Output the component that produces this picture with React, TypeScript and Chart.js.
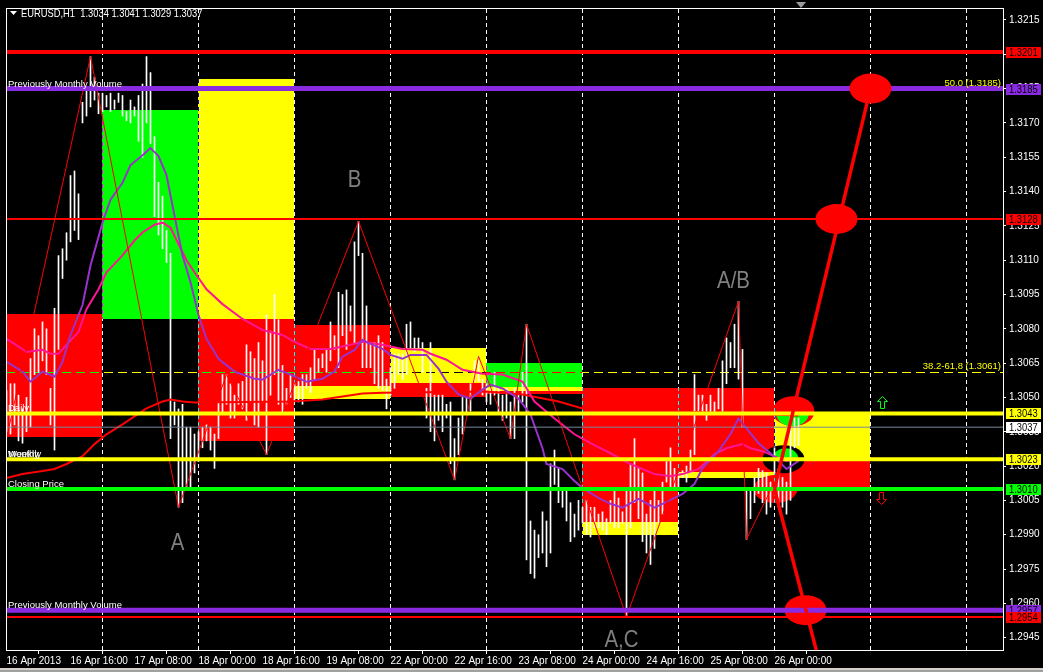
import React, { useEffect, useRef } from "react";
import { Chart, registerables } from "chart.js";

Chart.register(...registerables);

// ---------------- data ----------------
const SYMBOL = "EURUSD,H1";
const CURRENT_OHLC = [1.3034, 1.3041, 1.3029, 1.3037];

const X_TICK_BARS = [0, 16, 32, 48, 64, 80, 96, 112, 128, 144, 160, 176, 192];
const X_TICK_LABELS = [
  "16 Apr 2013", "16 Apr 16:00", "17 Apr 08:00", "18 Apr 00:00", "18 Apr 16:00",
  "19 Apr 08:00", "22 Apr 00:00", "22 Apr 16:00", "23 Apr 08:00", "24 Apr 00:00",
  "24 Apr 16:00", "25 Apr 08:00", "26 Apr 00:00",
];
const Y_TICKS = [
  1.2945, 1.296, 1.2975, 1.299, 1.3005, 1.302, 1.3035, 1.305, 1.3065, 1.308,
  1.3095, 1.311, 1.3125, 1.314, 1.3155, 1.317, 1.3185, 1.32, 1.3215,
];
const BARS_PER_DAY = 24;
const DAY_SEPARATORS = [24, 48, 72, 96, 120, 144, 168, 192, 216, 240];

// hourly bars (index 0 = 16 Apr 00:00)
const BAR_HIGH = [
  1.3053, 1.3056, 1.3056, 1.3051, 1.3045, 1.305, 1.3067, 1.308, 1.3077, 1.3083,
  1.308, 1.3054, 1.3089, 1.3112, 1.3115, 1.3122, 1.3147, 1.3149, 1.3139, 1.3179,
  1.3184, 1.3199, 1.319, 1.3183, 1.3183, 1.3182, 1.3183, 1.318, 1.3183, 1.3182,
  1.3175, 1.318, 1.3177, 1.3182, 1.3187, 1.3199, 1.3192, 1.3164, 1.3144, 1.3138,
  1.3123, 1.3113, 1.3048, 1.3045, 1.3047, 1.3037, 1.3037, 1.3034, 1.3035, 1.3037,
  1.3038, 1.3037, 1.3034, 1.3048, 1.306, 1.306, 1.3056, 1.3051, 1.3056, 1.3057,
  1.3073, 1.307, 1.3067, 1.3074, 1.3066, 1.3086, 1.3079, 1.3095, 1.3084, 1.3064,
  1.3054, 1.306, 1.3056, 1.3057, 1.306, 1.306, 1.3063, 1.3071, 1.3067, 1.3069,
  1.3071, 1.3083, 1.3077, 1.3096, 1.3095, 1.3097, 1.309, 1.3118, 1.3127, 1.3113,
  1.309, 1.3074, 1.3074, 1.3077, 1.3074, 1.3058, 1.3063, 1.3069, 1.3069, 1.3069,
  1.3082, 1.3083, 1.3076, 1.3076, 1.3074, 1.3054, 1.3074, 1.3051, 1.3051, 1.3051,
  1.3047, 1.3048, 1.3032, 1.3041, 1.305, 1.305, 1.3056, 1.3066, 1.3068, 1.3058,
  1.3056, 1.3054, 1.3061, 1.3054, 1.3051, 1.3054, 1.3048, 1.3054, 1.3051, 1.3061,
  1.3082, 1.2996, 1.2992, 1.299, 1.3, 1.2996, 1.3021, 1.3027, 1.3019, 1.3009,
  1.3009, 1.3004, 1.2999, 1.3005, 1.3002, 1.3005, 1.3002, 1.3002, 1.2999, 1.3,
  1.2997, 1.3005, 1.3009, 1.3006, 1.3, 1.3009, 1.3021, 1.3032, 1.3019, 1.3017,
  1.2999, 1.3005, 1.3009, 1.3005, 1.3013, 1.3022, 1.3028, 1.3019, 1.3017, 1.3018,
  1.302, 1.3027, 1.306, 1.3051, 1.3051, 1.3047, 1.3051, 1.3048, 1.3054, 1.3066,
  1.3076, 1.3074, 1.3082, 1.3092, 1.3071, 1.301, 1.3009, 1.3015, 1.3019, 1.3018,
  1.3017, 1.3013, 1.3028, 1.3019, 1.3015, 1.3013, 1.3043, 1.3041, 1.3041,
];
const BAR_LOW = [
  1.3035, 1.3034, 1.3038, 1.3031, 1.303, 1.3035, 1.3037, 1.306, 1.3061, 1.3066,
  1.306, 1.3038, 1.3027, 1.3071, 1.3102, 1.311, 1.3118, 1.3123, 1.3119, 1.317,
  1.3173, 1.3177, 1.318, 1.3174, 1.3175, 1.3177, 1.3175, 1.3176, 1.3179, 1.3173,
  1.3171, 1.317, 1.3173, 1.3162, 1.3155, 1.317, 1.3161, 1.3129, 1.3121, 1.3115,
  1.3109, 1.3032, 1.3038, 1.3002, 1.3004, 1.301, 1.301, 1.3017, 1.3022, 1.3028,
  1.3031, 1.3027, 1.3019, 1.3032, 1.3043, 1.3047, 1.3041, 1.3041, 1.3047, 1.3045,
  1.304, 1.3048, 1.3038, 1.3037, 1.3048, 1.3025, 1.3051, 1.306, 1.3047, 1.3043,
  1.3047, 1.305, 1.3048, 1.3048, 1.3047, 1.3054, 1.3052, 1.3058, 1.3061, 1.3063,
  1.3061, 1.3066, 1.3071, 1.3063, 1.3077, 1.3071, 1.3079, 1.3074, 1.3112, 1.3063,
  1.3063, 1.3063, 1.3056, 1.3054, 1.3053, 1.3045, 1.3051, 1.3054, 1.306, 1.3058,
  1.306, 1.3071, 1.307, 1.3071, 1.3061, 1.3041, 1.3035, 1.3031, 1.304, 1.3035,
  1.3041, 1.3021, 1.3014, 1.3025, 1.3034, 1.3043, 1.3044, 1.3057, 1.3057, 1.3051,
  1.3048, 1.3047, 1.3051, 1.3043, 1.304, 1.3041, 1.3032, 1.3032, 1.3043, 1.3048,
  1.2979, 1.2973, 1.2971, 1.298, 1.2982, 1.2976, 1.2982, 1.3012, 1.3004, 1.3002,
  1.2996, 1.2987, 1.2989, 1.2992, 1.2995, 1.299, 1.2989, 1.2993, 1.2993, 1.2992,
  1.299, 1.2995, 1.2993, 1.2993, 1.2995, 1.2954, 1.2993, 1.3004, 1.2997, 1.2987,
  1.2982, 1.2977, 1.2984, 1.2995, 1.2999, 1.3013, 1.301, 1.301, 1.301, 1.3015,
  1.3013, 1.3017, 1.3025, 1.3043, 1.3043, 1.304, 1.3043, 1.3043, 1.3045, 1.3044,
  1.3056, 1.3063, 1.3063, 1.3058, 1.3037, 1.2988, 1.2997, 1.3004, 1.3008, 1.3004,
  1.2999, 1.3002, 1.3017, 1.3002, 1.3002, 1.2999, 1.3005, 1.3028, 1.3029,
];

// daily zones (day number from 16 Apr, price top / bottom, type)
const ZONE_DAY = [0, 1, 2, 2, 3, 3, 4, 4, 5, 5, 5, 6, 6, 7, 7, 8, 8];
const ZONE_TOP = [
  1.30864, 1.31755, 1.31891, 1.30843, 1.30817, 1.30548, 1.30714, 1.30565, 1.30649,
  1.30547, 1.30526, 1.30543, 1.29954, 1.30543, 1.30174, 1.30431, 1.30222,
];
const ZONE_BOTTOM = [
  1.30326, 1.30843, 1.30843, 1.30309, 1.30548, 1.30493, 1.30565, 1.305, 1.30547,
  1.30526, 1.30514, 1.29954, 1.299, 1.30174, 1.30148, 1.30222, 1.30101,
];
const ZONE_TYPE = [
  "bear", "bull", "range", "bear", "bear", "range", "range", "bear", "bull",
  "range", "bear", "bear", "range", "bear", "range", "range", "bear",
];

// moving averages [bar, price]
const MA_FAST = [
  [0, 1.30656], [4, 1.30613], [6, 1.30569], [9, 1.30613], [12, 1.30591], [14, 1.30656],
  [16, 1.30773], [19, 1.30904], [21, 1.31077], [24, 1.31264], [26, 1.31364], [29, 1.31438],
  [31, 1.31516], [34, 1.31559], [36, 1.3159], [38, 1.31555], [40, 1.31472], [42, 1.31294],
  [44, 1.31121], [46, 1.31003], [48, 1.3086], [50, 1.30756], [53, 1.30669], [57, 1.30613],
  [62, 1.30582], [64, 1.30578], [68, 1.30621], [71, 1.306], [75, 1.30569], [79, 1.30582],
  [82, 1.30613], [84, 1.30678], [87, 1.30708], [89, 1.30752], [91, 1.30734], [94, 1.30712],
  [96, 1.30686], [99, 1.30669], [101, 1.30686], [105, 1.30686], [108, 1.30626], [110, 1.30569],
  [113, 1.30513], [116, 1.30495], [119, 1.30534], [121, 1.30556], [124, 1.30539], [128, 1.30495],
  [131, 1.30426], [134, 1.30278], [135, 1.30209], [139, 1.30187], [142, 1.30135], [144, 1.30104],
  [148, 1.30061], [151, 1.30035], [154, 1.30018], [158, 1.30057], [162, 1.30018], [164, 1.30035],
  [167, 1.30061], [169, 1.30078], [172, 1.30122], [174, 1.30191], [178, 1.30265], [181, 1.30339],
  [183, 1.30408], [185, 1.30365], [188, 1.303], [191, 1.30256], [195, 1.30187], [198, 1.30222],
];
const MA_MID = [
  [0, 1.30756], [2, 1.30734], [5, 1.30699], [9, 1.30708], [11, 1.30691], [13, 1.30691],
  [15, 1.3073], [18, 1.30786], [20, 1.30886], [23, 1.30973], [25, 1.31047], [29, 1.31121],
  [32, 1.31186], [34, 1.31221], [37, 1.31255], [39, 1.31264], [41, 1.31242], [43, 1.3117],
  [45, 1.311], [47, 1.31047], [50, 1.30973], [54, 1.30908], [59, 1.30843], [64, 1.30795],
  [69, 1.30773], [72, 1.30743], [76, 1.30712], [81, 1.30712], [86, 1.3073], [89, 1.30743],
  [94, 1.3073], [99, 1.30712], [104, 1.30708], [106, 1.30691], [110, 1.30665], [114, 1.30621],
  [119, 1.30604], [124, 1.306], [129, 1.30569], [132, 1.30482], [137, 1.30408], [142, 1.30339],
  [146, 1.303], [151, 1.30256], [156, 1.30209], [162, 1.30165], [166, 1.30156], [169, 1.30165],
  [173, 1.30187], [177, 1.30252], [180, 1.30278], [184, 1.30296], [186, 1.30278], [189, 1.30265],
  [193, 1.30235], [195, 1.30222], [198, 1.30235],
];
const MA_SLOW = [
  [0, 1.30148], [4, 1.30165], [9, 1.30178], [12, 1.30187], [15, 1.30209], [19, 1.30243],
  [22, 1.30296], [25, 1.30339], [29, 1.30382], [32, 1.30417], [35, 1.30452], [39, 1.30482],
  [41, 1.30491], [44, 1.30482], [47, 1.30478], [71, 1.30482], [79, 1.30491], [84, 1.30504],
  [89, 1.30517], [94, 1.30521], [120, 1.30526], [129, 1.30513], [138, 1.30482], [144, 1.30452],
  [168, 1.30439], [198, 1.30421],
];
const ZIGZAG = [
  [0, 1.3032], [21, 1.3199], [43, 1.3002], [55, 1.306], [65, 1.3025], [88, 1.3127],
  [112, 1.3014], [118, 1.3068], [126, 1.3032], [130, 1.3082], [155, 1.2954], [183, 1.3092],
  [185, 1.2988], [192, 1.3013],
];

// horizontal levels
const LEVEL_PRICE = [1.3201, 1.3185, 1.3128, 1.3043, 1.3037, 1.3023, 1.301, 1.2957, 1.2954];
const LEVEL_ROLE = ["monthHigh", "prevVolume", "weekHigh", "daily", "bid", "monthly", "close", "prevVolume", "monthLow"];
const LEVEL_TEXT = [[], ["Previously Monthly Volume"], [], ["Daily"], [], ["Weekly", "Monthly"], ["Closing Price"], ["Previously Monthly Volume"], []];

const FIB_PRICE = [1.3185, 1.3061];
const FIB_TEXT = ["50.0 (1.3185)", "38.2-61,8 (1.3061)"];

// projections
const PROJ_UP = [[192, 1.301], [216, 1.3185]];
const PROJ_DOWN = [[192, 1.301], [204, 1.2929]];

// pivot markers
const MARK_BAR = [216, 207.5, 199.75, 196.75, 194.25, 192.25];
const MARK_PRICE = [1.3185, 1.3128, 1.2957, 1.3044, 1.3023, 1.301];
const MARK_KIND = ["target", "target", "target", "breakUp", "pivot", "origin"];
const MARK_ON_TOP = [true, false, false, false, false, false];

const SIGNAL_BAR = [218.75, 218.5];
const SIGNAL_PRICE = [1.3048, 1.3006];
const SIGNAL_DIR = ["up", "down"];

const WAVE_TEXT = ["A", "B", "A,C", "A/B"];
const WAVE_BAR = [42.75, 87, 153.75, 181.75];
const WAVE_PRICE = [1.2986, 1.3145, 1.29436, 1.31008];

// ---------------- styles ----------------
const W = 1043;
const H = 672;
const X_MIN = -0.125;
const X_MAX = 249.125;
const Y_MIN = 1.29396;
const Y_MAX = 1.32198;
const FONT = "'Liberation Sans', Arial, sans-serif";
const NARROW = 0.85;

const LEVEL_STYLE: any = {
  monthHigh: { color: "#ff0000", width: 4 },
  prevVolume: { color: "#8a2be2", width: 5 },
  weekHigh: { color: "#ff0000", width: 2 },
  daily: { color: "#ffff00", width: 4 },
  bid: { color: "#778899", width: 1, box: "#ffffff" },
  monthly: { color: "#ffff00", width: 4 },
  close: { color: "#00ff00", width: 4 },
  monthLow: { color: "#ff0000", width: 2 },
};
const ZONE_COLOR: any = { bear: "#ff0000", bull: "#00ff00", range: "#ffff00" };

function clipArea(ctx: CanvasRenderingContext2D, a: any) {
  ctx.beginPath();
  ctx.rect(a.left, a.top, a.right - a.left, a.bottom - a.top);
  ctx.clip();
}

function narrowText(ctx: CanvasRenderingContext2D, t: string, x: number, y: number) {
  ctx.save();
  ctx.translate(x, y);
  ctx.scale(NARROW, 1);
  ctx.fillText(t, 0, 0);
  ctx.restore();
}

function drawMarker(ctx: CanvasRenderingContext2D, xs: any, ys: any, k: number) {
  const cx = xs.getPixelForValue(MARK_BAR[k]);
  const cy = ys.getPixelForValue(MARK_PRICE[k]);
  const kind = MARK_KIND[k];
  ctx.fillStyle = kind === "pivot" ? "#000000" : "#ff0000";
  ctx.beginPath();
  ctx.ellipse(cx, cy, kind === "origin" ? 22 : 21, kind === "origin" || kind === "pivot" ? 14 : 15, 0, 0, Math.PI * 2);
  ctx.fill();
  if (kind === "breakUp") {
    ctx.fillStyle = "#00ff00";
    ctx.beginPath();
    ctx.ellipse(cx - 1, cy + 3, 16, 12, 0, 0, Math.PI);
    ctx.fill();
  }
  if (kind === "pivot") {
    ctx.fillStyle = "#00ff00";
    ctx.beginPath();
    ctx.ellipse(cx + 2, cy, 13, 11, 0, Math.PI, Math.PI * 2);
    ctx.fill();
  }
}

const mt4Plugin = {
  id: "mt4",
  beforeDraw(chart: any) {
    const ctx = chart.ctx;
    ctx.save();
    ctx.fillStyle = "#000";
    ctx.fillRect(0, 0, chart.width, chart.height);
    ctx.restore();
  },
  beforeDatasetsDraw(chart: any) {
    const { ctx, chartArea: a, scales } = chart;
    const xs = scales.x;
    const ys = scales.y;
    ctx.save();
    clipArea(ctx, a);
    // daily zones
    ZONE_DAY.forEach((d, k) => {
      const x0 = Math.floor(xs.getPixelForValue(d * BARS_PER_DAY));
      const x1 = Math.floor(xs.getPixelForValue((d + 1) * BARS_PER_DAY));
      const y0 = Math.round(ys.getPixelForValue(ZONE_TOP[k]));
      const y1 = Math.round(ys.getPixelForValue(ZONE_BOTTOM[k]));
      ctx.fillStyle = ZONE_COLOR[ZONE_TYPE[k]];
      ctx.fillRect(x0, y0, x1 - x0, y1 - y0);
    });
    // pivot markers (under lines)
    MARK_BAR.forEach((_, k) => {
      if (!MARK_ON_TOP[k]) drawMarker(ctx, xs, ys, k);
    });
    // separators and fibo line (xor-like)
    ctx.globalCompositeOperation = "difference";
    ctx.lineWidth = 1;
    ctx.strokeStyle = "#ffffff";
    ctx.setLineDash([4, 3]);
    DAY_SEPARATORS.forEach((b) => {
      const x = Math.floor(xs.getPixelForValue(b)) + 0.5;
      ctx.beginPath();
      ctx.moveTo(x, a.top);
      ctx.lineTo(x, a.bottom);
      ctx.stroke();
    });
    ctx.strokeStyle = "#ffff00";
    ctx.setLineDash([9, 5]);
    FIB_PRICE.forEach((p) => {
      const y = Math.floor(ys.getPixelForValue(p)) + 0.5;
      ctx.beginPath();
      ctx.moveTo(a.left, y);
      ctx.lineTo(a.right, y);
      ctx.stroke();
    });
    ctx.restore();
  },
  afterDatasetsDraw(chart: any) {
    const { ctx, chartArea: a, scales } = chart;
    const xs = scales.x;
    const ys = scales.y;
    ctx.save();
    clipArea(ctx, a);
    // pivot markers (over lines)
    MARK_BAR.forEach((_, k) => {
      if (MARK_ON_TOP[k]) drawMarker(ctx, xs, ys, k);
    });
    // level texts
    ctx.font = `9.5px ${FONT}`;
    ctx.fillStyle = "#ffffff";
    ctx.textAlign = "left";
    ctx.textBaseline = "alphabetic";
    LEVEL_PRICE.forEach((p, k) => {
      const y = ys.getPixelForValue(p);
      LEVEL_TEXT[k].forEach((t) => ctx.fillText(t, a.left + 2, y - 2));
    });
    // fibo texts
    ctx.fillStyle = "#ffff00";
    ctx.textAlign = "right";
    FIB_PRICE.forEach((p, k) => {
      const y = ys.getPixelForValue(p);
      ctx.fillText(FIB_TEXT[k], a.right - 2, y - 3);
    });
    // wave letters
    ctx.font = `24px ${FONT}`;
    ctx.fillStyle = "#808080";
    ctx.textAlign = "center";
    ctx.textBaseline = "middle";
    WAVE_TEXT.forEach((t, k) => {
      narrowText(ctx, t, xs.getPixelForValue(WAVE_BAR[k]), ys.getPixelForValue(WAVE_PRICE[k]));
    });
    // signal arrows
    ctx.lineWidth = 1;
    SIGNAL_BAR.forEach((b, k) => {
      const cx = Math.round(xs.getPixelForValue(b)) + 0.5;
      const cy = Math.round(ys.getPixelForValue(SIGNAL_PRICE[k])) + 0.5;
      const s = SIGNAL_DIR[k] === "up" ? 1 : -1;
      ctx.strokeStyle = s > 0 ? "#00ff00" : "#ff0000";
      ctx.beginPath();
      ctx.moveTo(cx, cy - 6 * s);
      ctx.lineTo(cx + 5, cy - 1 * s);
      ctx.lineTo(cx + 2, cy - 1 * s);
      ctx.lineTo(cx + 2, cy + 6 * s);
      ctx.lineTo(cx - 2, cy + 6 * s);
      ctx.lineTo(cx - 2, cy - 1 * s);
      ctx.lineTo(cx - 5, cy - 1 * s);
      ctx.closePath();
      ctx.stroke();
    });
    ctx.restore();
  },
  afterDraw(chart: any) {
    const { ctx, chartArea: a, scales } = chart;
    const ys = scales.y;
    ctx.save();
    // frame
    ctx.strokeStyle = "#ffffff";
    ctx.lineWidth = 1;
    ctx.strokeRect(a.left + 0.5, a.top - 0.5, a.right - a.left, a.bottom - a.top + 1);
    // price boxes
    ctx.font = `11px ${FONT}`;
    ctx.textAlign = "left";
    ctx.textBaseline = "middle";
    LEVEL_PRICE.forEach((p, k) => {
      const st = LEVEL_STYLE[LEVEL_ROLE[k]];
      const y = Math.round(ys.getPixelForValue(p));
      ctx.fillStyle = st.box || st.color;
      ctx.fillRect(a.right + 3, y - 5, 35, 11);
      ctx.fillStyle = "#000000";
      narrowText(ctx, p.toFixed(4), a.right + 6, y + 1);
    });
    // title
    ctx.fillStyle = "#ffffff";
    ctx.textBaseline = "alphabetic";
    narrowText(ctx, `${SYMBOL}  ${CURRENT_OHLC.map((v) => v.toFixed(4)).join(" ")}`, 21, 17);
    ctx.beginPath();
    ctx.moveTo(10, 11);
    ctx.lineTo(17, 11);
    ctx.lineTo(13.5, 15);
    ctx.closePath();
    ctx.fill();
    // chart-shift marker
    ctx.fillStyle = "#9a9aa0";
    ctx.beginPath();
    ctx.moveTo(796, 2);
    ctx.lineTo(806, 2);
    ctx.lineTo(801, 8);
    ctx.closePath();
    ctx.fill();
    // window border
    ctx.fillStyle = "#d4d0c8";
    ctx.fillRect(0, 668, chart.width, 2);
    ctx.fillStyle = "#a0a0a0";
    ctx.fillRect(0, 670, chart.width, 2);
    ctx.restore();
  },
};

function lineSet(points: number[][], color: string, width: number, order: number) {
  return {
    type: "line",
    data: points.map((p) => ({ x: p[0], y: p[1] })),
    borderColor: color,
    borderWidth: width,
    pointRadius: 0,
    fill: false,
    tension: 0,
    clip: 0,
    order,
  };
}

export default function App() {
  const ref = useRef<HTMLCanvasElement>(null);

  useEffect(() => {
    const canvas = ref.current;
    if (!canvas) return;

    const datasets: any[] = [];
    datasets.push({
      type: "bar",
      data: BAR_HIGH.map((h, i) => ({ x: i, y: [BAR_LOW[i], h] })),
      backgroundColor: "#ffffff",
      borderWidth: 0,
      barThickness: 1,
      order: 50,
    });
    datasets.push(lineSet(MA_SLOW, "#ff0000", 2, 42));
    datasets.push(lineSet(MA_MID, "#ff1493", 2, 41));
    datasets.push(lineSet(MA_FAST, "#9932cc", 2, 40));
    datasets.push(lineSet(ZIGZAG, "#ff0000", 1, 30));
    LEVEL_PRICE.forEach((p, k) => {
      const st = LEVEL_STYLE[LEVEL_ROLE[k]];
      datasets.push(lineSet([[X_MIN, p], [X_MAX, p]], st.color, st.width, 20));
    });
    datasets.push(lineSet(PROJ_UP, "#ff0000", 3.5, 10));
    datasets.push(lineSet(PROJ_DOWN, "#ff0000", 3.5, 10));

    const chart = new Chart(canvas, {
      type: "line",
      data: { datasets },
      options: {
        responsive: false,
        devicePixelRatio: 1,
        animation: false,
        events: [],
        layout: { padding: { left: 6, top: 5, right: 0, bottom: 0 } },
        plugins: {
          legend: { display: false },
          tooltip: { enabled: false },
          title: { display: false },
        },
        scales: {
          x: {
            type: "linear",
            position: "bottom",
            min: X_MIN,
            max: X_MAX,
            offset: false,
            afterFit: (s: any) => {
              s.height = 22;
            },
            afterBuildTicks: (s: any) => {
              s.ticks = X_TICK_BARS.map((v) => ({ value: v }));
            },
            grid: {
              display: true,
              drawOnChartArea: false,
              drawTicks: true,
              tickLength: 4,
              tickColor: "#ffffff",
              color: "#ffffff",
            },
            border: { display: false },
            ticks: {
              autoSkip: false,
              maxRotation: 0,
              minRotation: 0,
              align: "start",
              padding: 1,
              color: "#ffffff",
              font: { family: FONT, size: 10 },
              callback: (v: any) => {
                const k = X_TICK_BARS.indexOf(Number(v));
                return k >= 0 ? X_TICK_LABELS[k] : "";
              },
            },
          },
          y: {
            type: "linear",
            position: "right",
            min: Y_MIN,
            max: Y_MAX,
            afterFit: (s: any) => {
              s.width = 40;
            },
            afterBuildTicks: (s: any) => {
              s.ticks = Y_TICKS.map((v) => ({ value: v }));
            },
            grid: {
              display: true,
              drawOnChartArea: false,
              drawTicks: true,
              tickLength: 3,
              tickColor: "#ffffff",
              color: "#ffffff",
            },
            border: { display: false },
            ticks: {
              autoSkip: false,
              padding: 3,
              color: "#ffffff",
              font: { family: FONT, size: 10 },
              callback: (v: any) => Number(v).toFixed(4),
            },
          },
        },
      } as any,
      plugins: [mt4Plugin],
    } as any);

    return () => chart.destroy();
  }, []);

  return (
    <div style={{ position: "fixed", left: 0, top: 0, width: W, height: H, background: "#000" }}>
      <canvas ref={ref} width={W} height={H} style={{ display: "block", width: W, height: H }} />
    </div>
  );
}
